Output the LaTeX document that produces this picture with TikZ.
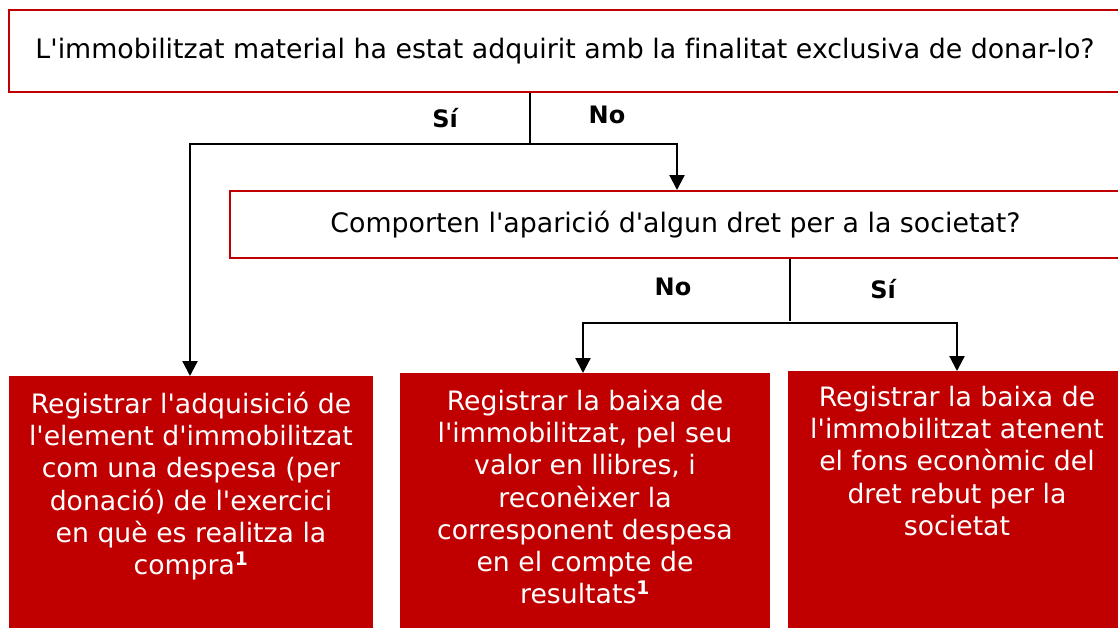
\documentclass[tikz,border=0pt]{standalone}
\usepackage{fontspec}
\setmainfont{DejaVu Sans}[Ligatures={NoCommon}]
\usetikzlibrary{arrows.meta,calc}
\definecolor{cred}{HTML}{C00000}
\newcommand{\ap}{\textquotesingle}
\begin{document}
\begin{tikzpicture}[x=1pt,y=-1pt,
  qbox/.style={draw=cred,line width=2pt,fill=white,inner sep=0pt,font=\fontsize{26.8}{30}\selectfont},
  abox/.style={fill=cred,inner sep=0pt,anchor=north west},
  atext/.style={text=white,align=center,anchor=north,inner sep=0pt,font=\fontsize{26.7}{32.2}\selectfont},
  stem/.style={line width=1.2pt},
  arr/.style={line width=2.2pt,-{Triangle[width=15pt,length=15pt]}},
  lbl/.style={font=\fontsize{24}{28}\selectfont\bfseries,inner sep=0pt}]
\useasboundingbox (0,0) rectangle (1118,627);
\clip (0,0) rectangle (1118,627);
% question boxes
\node[qbox,minimum width=1112pt,minimum height=82pt] (q1) at (565,51)
  {L\ap immobilitzat material ha estat adquirit amb la finalitat exclusiva de donar-lo?};
\node[qbox,minimum width=891pt,minimum height=67pt] (q2) at (675.5,224.5)
  {Comporten l\ap aparició d\ap algun dret per a la societat?};
% answer boxes
\node[abox,minimum width=364pt,minimum height=270pt] (b1) at (9,376) {};
\node[abox,minimum width=370pt,minimum height=270pt] (b2) at (400,373) {};
\node[abox,minimum width=338pt,minimum height=270pt] (b3) at (788,371) {};
\node[atext] (t1) at (191,392) {Registrar l\ap adquisició de\\l\ap element d\ap immobilitzat\\com una despesa (per\\donació) de l\ap exercici\\en què es realitza la\\compra\textsuperscript{\bfseries 1}};
\node[atext] (t2) at (585,390) {Registrar la baixa de\\l\ap immobilitzat, pel seu\\valor en llibres, i\\reconèixer la\\corresponent despesa\\en el compte de\\resultats\textsuperscript{\bfseries 1}};
\node[atext] (t3) at (957,386) {Registrar la baixa de\\l\ap immobilitzat atenent\\el fons econòmic del\\dret rebut per la\\societat};
% connectors
\coordinate (j1) at (530,144);
\coordinate (j2) at (790,323);
\draw[stem] (q1.south -| j1) -- (j1);
\draw[arr] (j1) -| (b1.north -| 190,0);
\draw[arr] (j1) -| (q2.north -| 677,0);
\draw[stem] (q2.south -| j2) -- ([yshift=2pt]j2);
\draw[arr] (j2) -| (b2.north -| 583,0);
\draw[arr] (j2) -| (b3.north -| 957,0);
% labels
\node[lbl] (s1) at (445,118) {Sí};
\node[lbl] (n1) at (607,115) {No};
\node[lbl] (n2) at (673,287) {No};
\node[lbl] (s2) at (883,289) {Sí};
\end{tikzpicture}
\end{document}
